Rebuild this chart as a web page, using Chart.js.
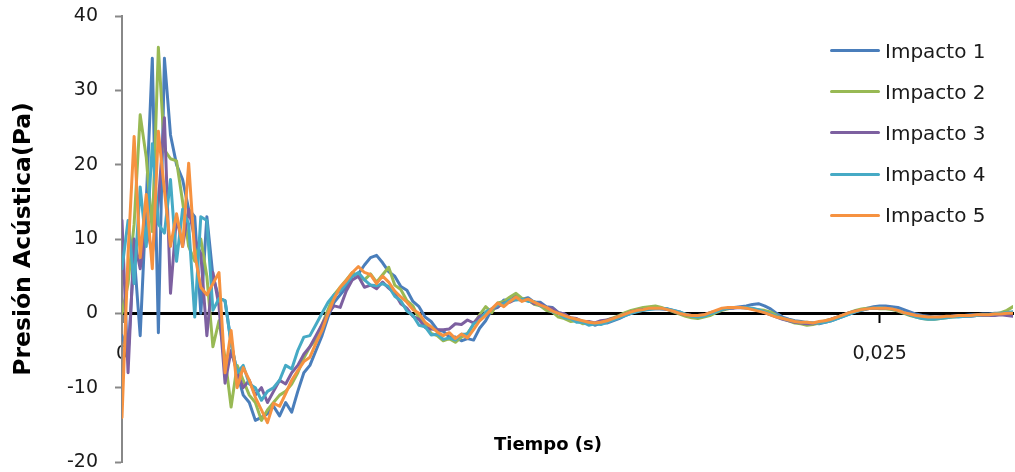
<!DOCTYPE html>
<html lang="es">
<head>
<meta charset="utf-8">
<title>Presión acústica por impacto</title>
<script src="https://cdn.jsdelivr.net/npm/chart.js@4/dist/chart.umd.min.js"></script>
<style>
  html, body { margin: 0; background: #fff; }
  #lienzo { position: relative; width: 1015px; height: 472px; overflow: hidden; }
  #grafico { display: block; }
  #leyenda { position: absolute; left: 830px; top: 30px; font: 20px "DejaVu Sans", sans-serif; color: #1a1a1a; }
  #leyenda div { height: 41.2px; display: flex; align-items: center; white-space: nowrap; }
  #leyenda .linea { display: inline-block; width: 50px; height: 3px; border-radius: 2px; margin-right: 5px; }
  #ejeX { position: absolute; left: 448px; width: 200px; top: 433px; text-align: center;
          font: bold 18px "DejaVu Sans", sans-serif; color: #000; }
</style>
</head>
<body>
<div id="lienzo">
  <canvas id="grafico" width="1015" height="472"></canvas>
  <div id="leyenda"></div>
  <div id="ejeX">Tiempo (s)</div>
</div>
<script>
// muestreo del registro: una muestra cada 0,2 ms
const paso = 0.0002;
const nombres = ['Impacto 1', 'Impacto 2', 'Impacto 3', 'Impacto 4', 'Impacto 5'];
const colores = ['#4A7EBB', '#98B954', '#7D60A0', '#46AAC5', '#F69240'];

// presión (Pa) en cada muestra
const impacto1 = [
  -3, -5.5, 8, -3, 15, 34.3, -2.6, 34.3, 24, 20,
  18, 14, 13, 0, 13, 5, 2, 1.7, -4, -8,
  -11, -12, -14.4, -14, -13.5, -12.5, -13.8, -12, -13.3, -10.5,
  -8, -7, -5, -3, -0.5, 1.5, 2.5, 3.5, 5, 5.3,
  6.5, 7.5, 7.8, 6.8, 5.6, 5.0, 3.6, 3.1, 1.6, 0.9,
  -0.5, -1.1, -2.2, -2.4, -3.2, -3.2, -3.7, -3.4, -3.6, -2.0,
  -1.0, 0.5, 0.8, 1.8, 1.7, 2.4, 1.9, 2.1, 1.5, 1.5,
  0.9, 0.8, 0.1, -0.1, -0.7, -0.8, -1.3, -1.2, -1.6, -1.3,
  -1.3, -1.0, -0.7, -0.3, 0.0, 0.3, 0.4, 0.6, 0.7, 0.6,
  0.6, 0.4, 0.2, -0.2, -0.3, -0.5, -0.4, -0.2, 0.2, 0.5,
  0.7, 0.8, 0.9, 1.0, 1.2, 1.3, 1.0, 0.6, 0.0, -0.5,
  -0.8, -1.0, -1.1, -1.3, -1.3, -1.4, -1.2, -1.0, -0.7, -0.4,
  -0.1, 0.2, 0.5, 0.7, 0.9, 1.0, 1.0, 0.9, 0.8, 0.5,
  0.2, -0.1, -0.3, -0.4, -0.5, -0.5, -0.5, -0.4, -0.3, -0.3,
  -0.2, -0.2, -0.1, -0.1, 0.0, 0.0, 0.1, 0.1
];
const impacto2 = [
  0, 4, 12, 26.7, 21, 11, 35.8, 22, 20.8, 20.5,
  15, 9, 7, 10, 5, -4.5, -1, -6, -12.6, -7,
  -9, -11, -12, -14.4, -13, -12, -11, -10.5, -9.5, -8,
  -6, -4.5, -3.5, -1.5, 0.5, 2.5, 3.5, 4.5, 5.5, 5,
  4.5, 5.3, 4.2, 5.2, 6.2, 3.8, 3.2, 1.7, 1.0, -0.7,
  -1.3, -2.7, -3.0, -3.7, -3.4, -3.9, -3.2, -2.7, -1.5, -0.2,
  0.9, 0.1, 1.4, 1.6, 2.2, 2.7, 2.0, 1.8, 1.2, 1.0,
  0.4, 0.2, -0.5, -0.7, -1.1, -1.0, -1.4, -1.3, -1.4, -1.1,
  -0.9, -0.6, -0.3, 0.1, 0.4, 0.6, 0.8, 0.9, 1.0, 0.8,
  0.5, 0.2, -0.1, -0.4, -0.6, -0.7, -0.5, -0.3, 0.1, 0.4,
  0.6, 0.8, 0.8, 0.7, 0.6, 0.5, 0.4, 0.2, -0.3, -0.7,
  -1.0, -1.3, -1.4, -1.6, -1.5, -1.3, -1.0, -0.8, -0.5, -0.2,
  0.1, 0.4, 0.6, 0.7, 0.7, 0.6, 0.6, 0.5, 0.3, 0.0,
  -0.3, -0.5, -0.7, -0.8, -0.8, -0.7, -0.6, -0.5, -0.4, -0.4,
  -0.3, -0.3, -0.2, -0.2, -0.1, 0.1, 0.4, 0.9
];
const impacto3 = [
  12.5, -8, 10, 6, 12, 8, 15, 26.3, 2.7, 13,
  9, 14, 10, 8, -3, 5.5, 1, -9.4, -5, -8,
  -10, -9, -11, -10, -12, -10.5, -9, -9.5, -8, -7,
  -5.5, -4.5, -3, -1.5, 0, 1, 0.8, 3, 4.5, 5,
  3.5, 3.8, 3.3, 4.2, 3.4, 2.7, 1.3, 0.7, -0.4, -0.8,
  -1.9, -2.1, -2.2, -2.2, -2.1, -1.4, -1.5, -0.9, -1.3, -0.4,
  -0.1, 0.6, 0.9, 1.4, 1.5, 1.9, 1.8, 1.8, 1.3, 1.3,
  0.8, 0.7, 0.1, -0.1, -0.6, -0.7, -1.1, -1.1, -1.3, -1.0,
  -0.9, -0.7, -0.4, -0.1, 0.2, 0.4, 0.5, 0.6, 0.6, 0.6,
  0.5, 0.3, 0.0, -0.2, -0.3, -0.3, -0.2, 0.1, 0.3, 0.5,
  0.7, 0.7, 0.8, 0.7, 0.6, 0.4, 0.1, -0.2, -0.5, -0.8,
  -1.0, -1.2, -1.3, -1.4, -1.4, -1.2, -1.1, -0.8, -0.5, -0.2,
  0.1, 0.3, 0.4, 0.6, 0.7, 0.7, 0.7, 0.6, 0.4, 0.1,
  -0.2, -0.4, -0.5, -0.6, -0.6, -0.5, -0.5, -0.4, -0.4, -0.4,
  -0.4, -0.3, -0.3, -0.3, -0.3, -0.2, -0.3, -0.4
];
const impacto4 = [
  6, 12.5, 4, 17, 9, 22.8, 12, 10.8, 18, 7,
  14, 12, -0.5, 13, 12.5, 0.4, 2, 1.7, -4, -8,
  -7, -9.5, -10, -11.7, -10.5, -10, -9, -7, -7.5, -5,
  -3.2, -3, -1.5, 0, 1.5, 2.5, 3, 4, 5, 5.5,
  4.5, 3.8, 3.7, 4.0, 3.6, 2.3, 1.7, 0.3, -0.3, -1.6,
  -1.8, -2.9, -2.8, -3.5, -3.3, -3.6, -2.8, -2.8, -1.4, -1.0,
  0.2, 0.6, 1.1, 1.3, 1.8, 1.8, 1.9, 1.6, 1.6, 1.0,
  0.8, 0.2, 0.0, -0.6, -0.7, -1.2, -1.2, -1.6, -1.4, -1.5,
  -1.2, -0.9, -0.6, -0.3, 0.0, 0.2, 0.4, 0.5, 0.6, 0.6,
  0.6, 0.4, 0.2, -0.1, -0.4, -0.5, -0.4, -0.1, 0.2, 0.5,
  0.7, 0.8, 0.8, 0.8, 0.7, 0.5, 0.2, -0.1, -0.4, -0.7,
  -0.9, -1.1, -1.2, -1.2, -1.3, -1.3, -1.2, -1.0, -0.7, -0.4,
  -0.1, 0.2, 0.4, 0.6, 0.7, 0.8, 0.7, 0.6, 0.4, 0.1,
  -0.2, -0.5, -0.7, -0.8, -0.8, -0.7, -0.6, -0.5, -0.5, -0.4,
  -0.4, -0.3, -0.2, -0.2, -0.1, 0.0, 0.1, 0.2
];
const impacto5 = [
  -14, 8, 23.8, 7.5, 16, 6, 24.5, 16.5, 9, 13.4,
  9, 20.2, 8, 3.5, 2.5, 4, 5.5, -8, -2.3, -10,
  -7.3, -9, -11.3, -13, -14.7, -12.1, -12.5, -10.8, -9, -7.7,
  -6.5, -5.9, -4, -2.3, 0, 2, 3.5, 4.4, 5.5, 6.3,
  5.5, 5.2, 4, 5, 4.2, 3.0, 2.2, 1.5, 0.5, 0.0,
  -1.2, -1.8, -2.5, -3.0, -2.6, -3.4, -2.8, -3.3, -2.2, -1.0,
  -0.3, 0.6, 1.4, 0.9, 1.6, 2.2, 1.6, 1.9, 1.5, 1.1,
  0.8, 0.3, 0.0, -0.3, -0.6, -0.8, -1.0, -1.2, -1.3, -1.2,
  -1.0, -0.7, -0.4, -0.1, 0.2, 0.4, 0.5, 0.7, 0.7, 0.7,
  0.5, 0.3, 0.0, -0.2, -0.3, -0.3, -0.2, 0.1, 0.4, 0.7,
  0.8, 0.8, 0.8, 0.7, 0.5, 0.3, 0.1, -0.2, -0.5, -0.7,
  -0.9, -1.1, -1.2, -1.2, -1.3, -1.1, -1.0, -0.8, -0.5, -0.2,
  0.1, 0.3, 0.5, 0.6, 0.7, 0.7, 0.7, 0.6, 0.4, 0.1,
  -0.1, -0.3, -0.4, -0.5, -0.5, -0.5, -0.4, -0.4, -0.3, -0.3,
  -0.3, -0.2, -0.2, -0.2, -0.1, -0.1, 0.0, 0.0
];
const registros = [impacto1, impacto2, impacto3, impacto4, impacto5];

// instantes de muestreo en segundos
const tiempos = impacto1.map((_, i) => +(i * paso).toFixed(4));

// ticks del eje de tiempo
const marcasTiempo = [0, 0.025];

const fuente = 'DejaVu Sans';

new Chart(document.getElementById('grafico'), {
  type: 'line',
  data: {
    labels: tiempos,
    datasets: registros.map((valores, k) => ({
      label: nombres[k],
      data: valores,
      borderColor: colores[k],
      backgroundColor: colores[k],
      borderWidth: 3,
      pointRadius: 0,
      tension: 0,
      borderJoinStyle: 'round',
      borderCapStyle: 'round',
      // el último impacto queda encima, como en la hoja original
      order: registros.length - 1 - k
    }))
  },
  options: {
    responsive: false,
    animation: false,
    layout: { padding: { top: 16, right: 2, bottom: 10, left: 0 } },
    plugins: { legend: { display: false }, tooltip: { enabled: false } },
    scales: {
      x: {
        type: 'linear',
        min: 0,
        max: 0.0294,
        // el eje de tiempo cruza en y = 0
        position: { y: 0 },
        afterFit: s => { s.height = 0; },
        afterBuildTicks: s => { s.ticks = marcasTiempo.map(v => ({ value: v })); },
        border: { color: '#000', width: 3 },
        grid: { drawOnChartArea: false, tickLength: 8, tickColor: '#000', tickWidth: 2 },
        ticks: {
          padding: 21,
          maxRotation: 0,
          color: '#1a1a1a',
          font: { family: fuente, size: 19 },
          callback: v => String(v).replace('.', ',')
        }
      },
      y: {
        min: -20,
        max: 40,
        // ancho fijo y sin margen extra arriba/abajo: el layout.padding ya lo deja
        afterFit: s => { s.width = 122; s.paddingTop = 0; s.paddingBottom = 0; },
        border: { color: '#888', width: 2 },
        grid: { drawOnChartArea: false, tickLength: 7, tickColor: '#888', tickWidth: 2 },
        ticks: { stepSize: 10, padding: 17, color: '#1a1a1a', font: { family: fuente, size: 19 } },
        title: {
          display: true,
          text: 'Presión Acústica(Pa)',
          color: '#000',
          font: { family: fuente, size: 23.5, weight: 'bold' },
          padding: { top: 10, bottom: 0 }
        }
      }
    }
  }
});

// leyenda a la derecha, sobre el área del gráfico
document.getElementById('leyenda').innerHTML = nombres
  .map((n, k) => `<div><span class="linea" style="background:${colores[k]}"></span>${n}</div>`)
  .join('');
</script>
</body>
</html>
